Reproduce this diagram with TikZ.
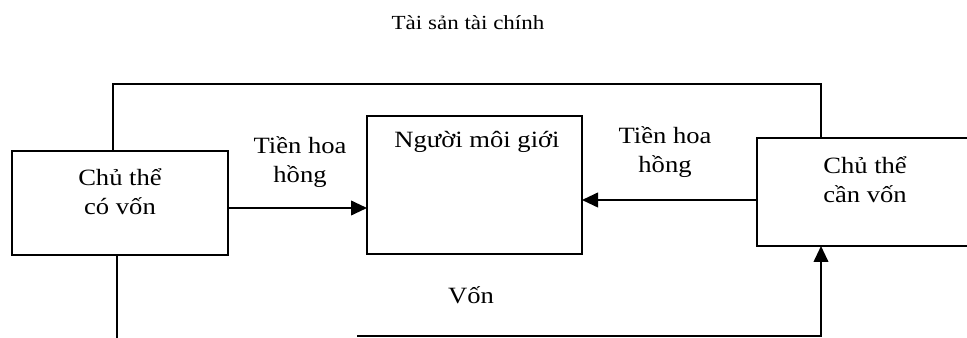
\documentclass[tikz,border=0pt]{standalone}
\usepackage{fontspec}
\setmainfont{Liberation Serif}
\usetikzlibrary{arrows.meta}
\begin{document}
\begin{tikzpicture}[x=0.75pt,y=-0.75pt,
  box/.style={draw, line width=1.5pt, inner sep=0pt, outer sep=0pt},
  txt/.style={inner sep=0pt, align=center, xscale=1.14, transform shape,
    font=\fontsize{17.5}{22}\selectfont},
  ttl/.style={inner sep=0pt, xscale=1.15, transform shape,
    font=\fontsize{15}{18}\selectfont},
  link/.style={line width=1.4pt},
  arr/.style={line width=1.4pt, -{Triangle[length=12pt,width=11pt]}}
]
\useasboundingbox (0,0) rectangle (967,338);
\clip (0,0) rectangle (967,338);
% boxes
\node[box, minimum width=162pt, minimum height=78pt] (lbox) at (120,203) {};
\node[box, minimum width=161.25pt, minimum height=103.5pt] (mbox) at (474.5,185) {};
\node[box, minimum width=180pt, minimum height=81pt] (rbox) at (877,192) {};
% texts (base anchor = baseline of the last line)
\node[ttl, anchor=base] (title) at (468,30) {Tài sản tài chính};
\node[txt, anchor=base] (mtext) at (477,148) {Người môi giới};
\node[txt, anchor=base] (ltext) at (120,215) {Chủ thể\\có vốn};
\node[txt, anchor=base] (rtext) at (865,203) {Chủ thể\\cần vốn};
\node[txt, anchor=base] (lfee) at (300,183) {Tiền hoa\\hồng};
\node[txt, anchor=base] (rfee) at (665,173) {Tiền hoa\\hồng};
\node[txt, anchor=base] (von) at (471,303) {Vốn};
% connectors
\draw[arr] (lbox.east |- 0,208) -- (mbox.west |- 0,208);
\draw[arr] (rbox.west |- 0,200) -- (mbox.east |- 0,200);
\draw[link] (lbox.north -| 113,0) -- (113,84) -- (821,84) -- (rbox.north -| 821,0);
\coordinate (lend) at (117,340);
\coordinate (bstart) at (357,336);
\draw[link] (lbox.south -| lend) -- (lend);
\draw[arr] (bstart) -- (821,336) -- (rbox.south -| 821,0);
\end{tikzpicture}
\end{document}
